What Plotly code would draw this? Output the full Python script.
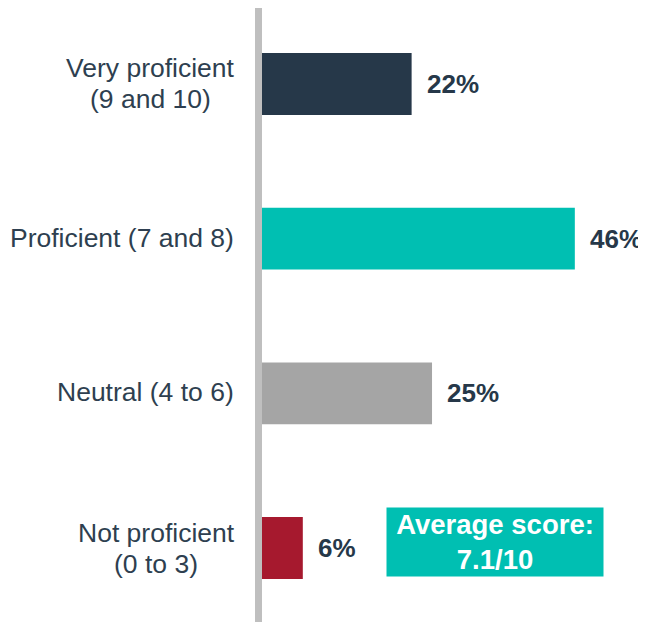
import plotly.graph_objects as go

categories = [["Very proficient", "(9 and 10)"], ["Proficient (7 and 8)"], ["Neutral (4 to 6)"], ["Not proficient", "(0 to 3)"]]
values = [22, 46, 25, 6]
labels = ["22%", "46%", "25%", "6%"]
colors = ["#263849", "#00BFB2", "#A5A5A5", "#A6192E"]
ypos = [0, 1, 2, 3]

FONT = "Liberation Sans, Arial"

fig = go.Figure(go.Bar(
    x=values, y=ypos, orientation="h", width=0.4,
    marker=dict(color=colors, line=dict(width=0)),
    hoverinfo="skip",
))

# category labels: one annotation per line so the line gap stays tight
for y, lines in zip(ypos, categories):
    if len(lines) == 1:
        fig.add_annotation(x=0, y=y, xref="x", yref="y", text=lines[0], showarrow=False,
                           xanchor="right", xshift=-26, yshift=1,
                           font=dict(family=FONT, size=26.5, color="#2E3F50"))
    else:
        # centre both lines on the longest one, right edge next to the axis
        w = len(lines[0])
        for i, ln in enumerate(lines):
            fig.add_annotation(x=0, y=y, xref="x", yref="y", text=ln, showarrow=False,
                               xanchor="center", xshift=-28 - w * 5.55, yshift=15.5 - 31 * i,
                               font=dict(family=FONT, size=26.5, color="#2E3F50"))

# value labels
for y, v, t in zip(ypos, values, labels):
    fig.add_annotation(x=v, y=y, xref="x", yref="y", text="<b>" + t + "</b>", showarrow=False,
                       xanchor="left", xshift=13,
                       font=dict(family=FONT, size=26, color="#263849"))

# average score box
fig.add_annotation(x=34.3, y=2.96, xref="x", yref="y", text="<b>Average score:<br>7.1/10</b>",
                   showarrow=False, bgcolor="#00BFB2", width=216, height=68, borderpad=0,
                   align="center", valign="middle",
                   font=dict(family=FONT, size=27.5, color="white"))

# grey axis line
fig.add_shape(type="rect", xref="x", yref="paper", x0=-1.03, x1=0, y0=0, y1=1,
              fillcolor="#BFBFBF", line=dict(width=0), layer="above")

fig.update_layout(
    width=646, height=622,
    margin=dict(l=247, r=3, t=0, b=0),
    plot_bgcolor="white", paper_bgcolor="white",
    showlegend=False,
    xaxis=dict(range=[-1.03, 57.2], visible=False),
    yaxis=dict(range=[3.530, -0.491], visible=False),
)

fig.write_html("out.html")
